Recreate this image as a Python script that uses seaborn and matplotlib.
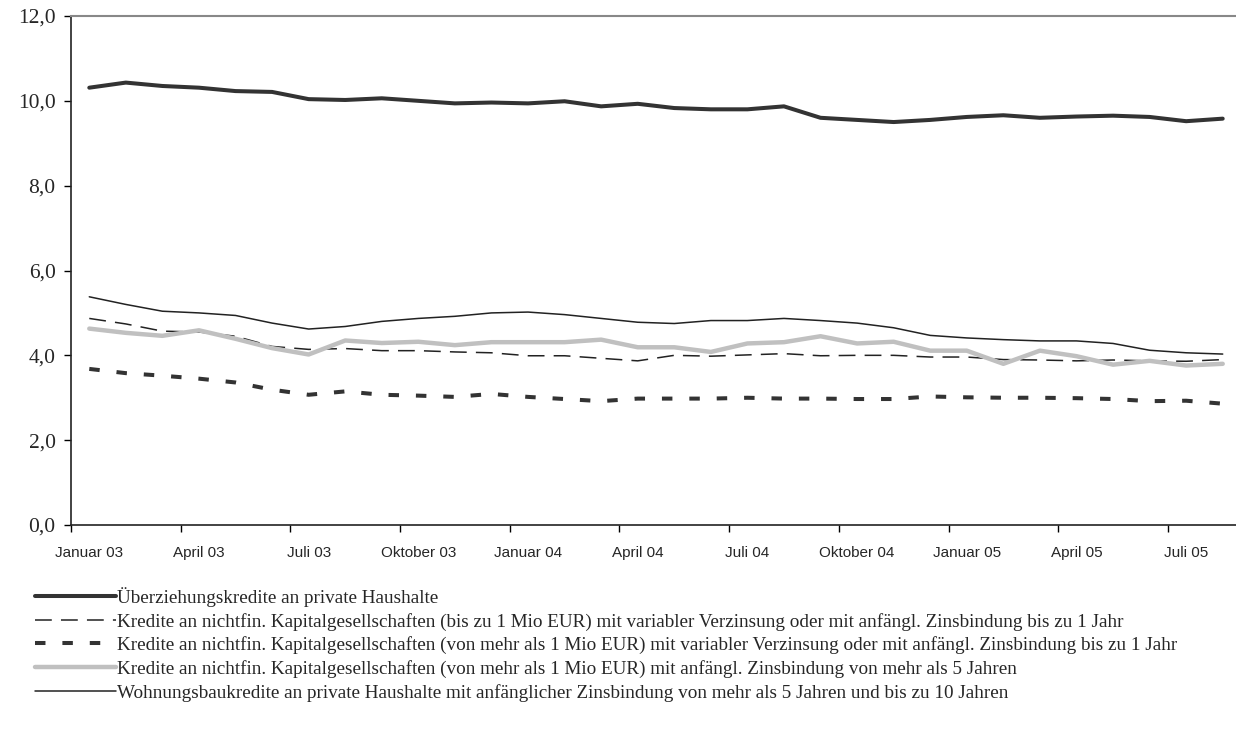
import pandas as pd
import matplotlib
matplotlib.use("Agg")
import matplotlib.pyplot as plt
import seaborn as sns

months = ["Jan 03", "Feb 03", "Mär 03", "Apr 03", "Mai 03", "Jun 03", "Jul 03", "Aug 03",
          "Sep 03", "Okt 03", "Nov 03", "Dez 03", "Jan 04", "Feb 04", "Mär 04", "Apr 04",
          "Mai 04", "Jun 04", "Jul 04", "Aug 04", "Sep 04", "Okt 04", "Nov 04", "Dez 04",
          "Jan 05", "Feb 05", "Mär 05", "Apr 05", "Mai 05", "Jun 05", "Jul 05", "Aug 05"]

tick_labels = ["Januar 03", "April 03", "Juli 03", "Oktober 03", "Januar 04", "April 04",
               "Juli 04", "Oktober 04", "Januar 05", "April 05", "Juli 05"]

ueberziehung = [10.31, 10.43, 10.35, 10.31, 10.23, 10.21, 10.04, 10.02, 10.06, 10.00, 9.94,
                9.96, 9.94, 9.99, 9.87, 9.93, 9.83, 9.80, 9.80, 9.87, 9.60, 9.55, 9.50, 9.55,
                9.62, 9.66, 9.60, 9.63, 9.65, 9.62, 9.52, 9.58]
kap_bis1 = [4.87, 4.74, 4.57, 4.55, 4.45, 4.21, 4.14, 4.16, 4.11, 4.11, 4.08, 4.06, 3.99,
            3.99, 3.93, 3.87, 4.00, 3.98, 4.01, 4.04, 3.99, 4.00, 4.00, 3.96, 3.96, 3.90,
            3.89, 3.87, 3.89, 3.87, 3.86, 3.90]
kap_ueber1_var = [3.68, 3.58, 3.52, 3.45, 3.36, 3.19, 3.07, 3.15, 3.07, 3.05, 3.02, 3.09,
                  3.02, 2.97, 2.92, 2.98, 2.98, 2.98, 3.00, 2.98, 2.98, 2.97, 2.97, 3.03,
                  3.01, 3.00, 3.00, 2.99, 2.97, 2.92, 2.93, 2.86]
kap_ueber1_5j = [4.63, 4.53, 4.46, 4.59, 4.39, 4.17, 4.02, 4.35, 4.29, 4.32, 4.24, 4.31,
                 4.31, 4.31, 4.37, 4.19, 4.19, 4.08, 4.28, 4.31, 4.45, 4.28, 4.32, 4.11,
                 4.11, 3.80, 4.11, 3.98, 3.78, 3.87, 3.76, 3.80]
wohnungsbau = [5.38, 5.20, 5.04, 5.00, 4.94, 4.76, 4.62, 4.68, 4.80, 4.87, 4.92, 5.00,
               5.02, 4.96, 4.87, 4.78, 4.75, 4.82, 4.82, 4.87, 4.82, 4.76, 4.65, 4.47,
               4.41, 4.37, 4.34, 4.34, 4.28, 4.12, 4.06, 4.03]

labels = [
    "Überziehungskredite an private Haushalte",
    "Kredite an nichtfin. Kapitalgesellschaften (bis zu 1 Mio EUR) mit variabler Verzinsung oder mit anfängl. Zinsbindung bis zu 1 Jahr",
    "Kredite an nichtfin. Kapitalgesellschaften (von mehr als 1 Mio EUR) mit variabler Verzinsung oder mit anfängl. Zinsbindung bis zu 1 Jahr",
    "Kredite an nichtfin. Kapitalgesellschaften (von mehr als 1 Mio EUR) mit anfängl. Zinsbindung von mehr als 5 Jahren",
    "Wohnungsbaukredite an private Haushalte mit anfänglicher Zinsbindung von mehr als 5 Jahren und bis zu 10 Jahren",
]

df = pd.DataFrame({"idx": range(len(months)), "monat": months})
series = [ueberziehung, kap_bis1, kap_ueber1_var, kap_ueber1_5j, wohnungsbau]
for lab, vals in zip(labels, series):
    df[lab] = vals

styles = [
    dict(color="#333333", lw=2.9, ls="-"),
    dict(color="#222222", lw=1.1, ls=(0, (11, 6))),
    dict(color="#333333", lw=2.9, ls=(0, (2.6, 4.2))),
    dict(color="#c0c0c0", lw=3.2, ls="-"),
    dict(color="#222222", lw=1.1, ls="-"),
]

sns.set_style("white")
plt.rcParams["font.family"] = ["Liberation Serif", "DejaVu Serif"]

fig = plt.figure(figsize=(12.36, 7.37), dpi=100)
ax = fig.add_axes([71 / 1236, 212 / 737, 1170 / 1236, 509 / 737])

for lab, st in zip(labels, styles):
    sns.lineplot(data=df, x="idx", y=lab, ax=ax, label=lab, color=st["color"],
                 linewidth=st["lw"], linestyle=st["ls"])

ax.set_xlim(-0.5, 31.5)
ax.set_ylim(0, 12)
ax.set_yticks([0, 2, 4, 6, 8, 10, 12])
ax.set_yticklabels([f"{v:.1f}".replace(".", ",") for v in [0, 2, 4, 6, 8, 10, 12]],
                   fontsize=15.5, family="Liberation Serif")
ax.set_xticks([i - 0.5 for i in range(0, 32, 3)])
ax.set_xticklabels([])
for k, t in enumerate(tick_labels):
    ax.text(3 * k, -0.5, t, ha="center", va="top", fontsize=11,
            family="Liberation Sans", transform=ax.transData)
ax.tick_params(axis="both", direction="out", length=5, width=1, color="black", left=True, bottom=True)
ax.tick_params(axis="y", pad=6)
ax.set_xlabel("")
ax.set_ylabel("")

for s in ["left", "bottom"]:
    ax.spines[s].set_color("#222222")
    ax.spines[s].set_linewidth(1.2)
ax.spines["top"].set_color("#888888")
ax.spines["top"].set_linewidth(1.5)
ax.spines["right"].set_visible(False)

ax.get_legend().remove()
handles, _ = ax.get_legend_handles_labels()
fig.legend(handles, labels, loc="upper left", bbox_to_anchor=(35 / 1236, 1 - 587 / 737),
           frameon=False, fontsize=13.8, handlelength=4.2, handletextpad=0.1,
           labelspacing=0.3, borderaxespad=0, borderpad=0)

fig.savefig("out.png", dpi=100)
